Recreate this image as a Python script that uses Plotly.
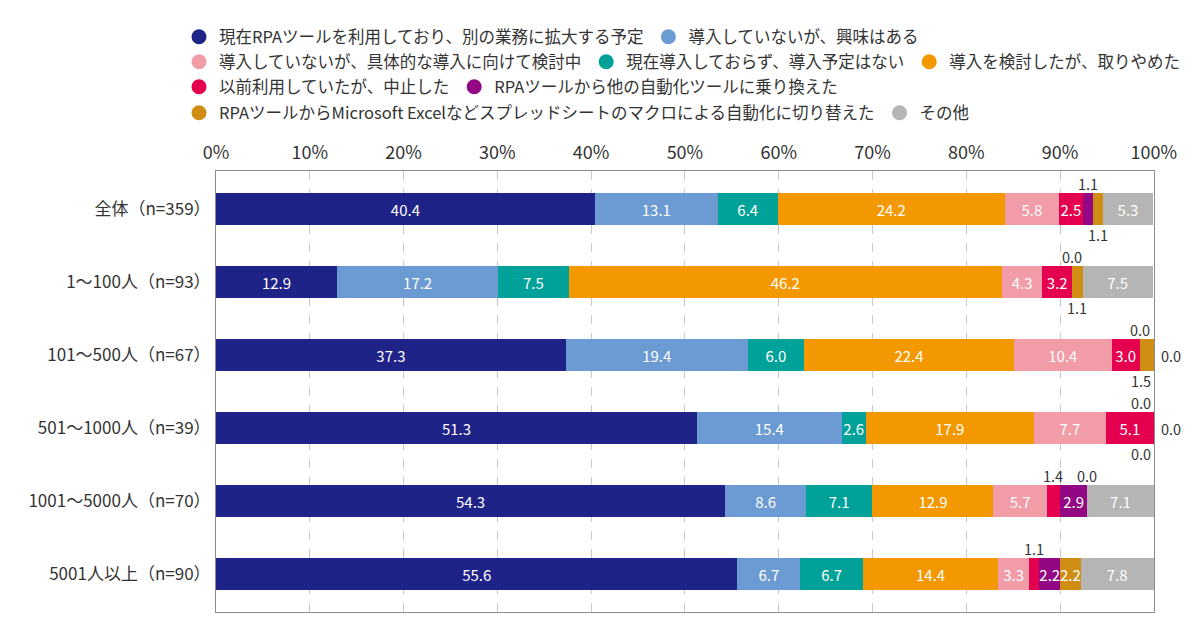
import plotly.graph_objects as go

# rows (top to bottom)
categories = ["全体（n=359）", "1～100人（n=93）", "101～500人（n=67）",
              "501～1000人（n=39）", "1001～5000人（n=70）", "5001人以上（n=90）"]

# series values in %
expand = [40.4, 12.9, 37.3, 51.3, 54.3, 55.6]
interested = [13.1, 17.2, 19.4, 15.4, 8.6, 6.7]
no_plan = [6.4, 7.5, 6.0, 2.6, 7.1, 6.7]
gave_up = [24.2, 46.2, 22.4, 17.9, 12.9, 14.4]
considering = [5.8, 4.3, 10.4, 7.7, 5.7, 3.3]
stopped = [2.5, 3.2, 3.0, 5.1, 1.4, 1.1]
other_tool = [1.1, 0.0, 0.0, 0.0, 2.9, 2.2]
excel_macro = [1.1, 1.1, 1.5, 0.0, 0.0, 2.2]
others = [5.3, 7.5, 0.0, 0.0, 7.1, 7.8]

x_ticks = list(range(0, 101, 10))

# name, values, colour (stack order left -> right)
series = [
    ("現在RPAツールを利用しており、別の業務に拡大する予定", expand, "#1f2287"),
    ("導入していないが、興味はある", interested, "#6b9bd2"),
    ("現在導入しておらず、導入予定はない", no_plan, "#00a199"),
    ("導入を検討したが、取りやめた", gave_up, "#f39800"),
    ("導入していないが、具体的な導入に向けて検討中", considering, "#f19ca7"),
    ("以前利用していたが、中止した", stopped, "#e5004f"),
    ("RPAツールから他の自動化ツールに乗り換えた", other_tool, "#920783"),
    ("RPAツールからMicrosoft Excelなどスプレッドシートのマクロによる自動化に切り替えた",
     excel_macro, "#cf8d14"),
    ("その他", others, "#b5b5b5"),
]

# legend rows, as indexes into series
legend_rows = [[0, 1], [4, 2, 3], [5, 6], [7, 8]]

# labels drawn outside the bar: (series index, row index) -> where
outside = {
    (6, 0): "up", (7, 0): "down",
    (6, 1): "up", (7, 1): "down",
    (6, 2): "up", (7, 2): "down", (8, 2): "right",
    (6, 3): "up", (8, 3): "right", (7, 3): "down",
    (5, 4): "up", (7, 4): "up",
    (5, 5): "up",
}

FONT = "Noto Sans CJK JP"
W, H = 1200, 642
M_L, M_R, M_T, M_B = 216, 46, 171, 30
plot_w = W - M_L - M_R
plot_h = H - M_T - M_B

fig = go.Figure()
base = [0.0] * len(categories)
annotations = []
for si, (name, vals, color) in enumerate(series):
    texts = []
    for ri, v in enumerate(vals):
        where = outside.get((si, ri))
        if where is None:
            texts.append("%.1f" % v)
        else:
            texts.append("")
            center = base[ri] + v / 2.0
            if where == "right":
                annotations.append(dict(x=100, y=categories[ri], text="%.1f" % v,
                                        xanchor="left", xshift=5, showarrow=False,
                                        font=dict(size=14.5, color="#333333", family=FONT)))
            else:
                annotations.append(dict(x=min(center, 98.6), y=categories[ri],
                                        text="%.1f" % v, showarrow=False,
                                        yshift=25.5 if where == "up" else -25.5,
                                        font=dict(size=14.5, color="#333333", family=FONT)))
    fig.add_trace(go.Bar(
        y=categories, x=vals, orientation="h", name=name,
        marker=dict(color=color, line=dict(width=0)),
        text=texts, textposition="inside", insidetextanchor="middle",
        constraintext="none", cliponaxis=False,
        textfont=dict(color="white", size=15, family=FONT),
        showlegend=False, hoverinfo="x+name",
    ))
    base = [b + v for b, v in zip(base, vals)]

# legend entries with round markers, one legend per row
legend_names = ["legend", "legend2", "legend3", "legend4"]
for li, row in enumerate(legend_rows):
    for rank, si in enumerate(row):
        name, vals, color = series[si]
        fig.add_trace(go.Scatter(
            x=[None], y=[None], mode="markers", name=name,
            marker=dict(symbol="circle", size=15, color=color),
            legend=legend_names[li], legendrank=rank + 1, showlegend=True,
        ))

# legend rows sit above the plot, starting a little left of it
row_y = [37, 62, 87, 113]
legend_layout = {}
for li, ln in enumerate(legend_names):
    legend_layout[ln] = dict(
        orientation="h", xref="paper", yref="paper",
        x=(179 - M_L) / float(plot_w), y=(H - M_B - row_y[li]) / float(plot_h),
        xanchor="left", yanchor="middle",
        font=dict(size=16.5, color="#333333", family=FONT),
        itemwidth=30, itemsizing="trace", tracegroupgap=0, traceorder="normal",
        bgcolor="rgba(0,0,0,0)",
    )

fig.update_layout(
    width=W, height=H,
    margin=dict(l=M_L, r=M_R, t=M_T, b=M_B, autoexpand=False),
    barmode="stack", bargap=0.565,
    paper_bgcolor="white", plot_bgcolor="white",
    font=dict(family=FONT, color="#333333"),
    annotations=annotations,
    xaxis=dict(
        range=[0, 100.02], side="top", tickvals=x_ticks,
        ticktext=["%d%%" % t for t in x_ticks],
        tickfont=dict(size=18, color="#333333"),
        showgrid=True, gridcolor="#c8c8c8", griddash="dash", gridwidth=1,
        showline=True, linecolor="#8c8c8c", linewidth=1, mirror=True,
        zeroline=False, ticks="", ticklabelstandoff=4, automargin=False,
    ),
    yaxis=dict(
        autorange="reversed", tickfont=dict(size=17, color="#333333"),
        showline=True, linecolor="#8c8c8c", linewidth=1, mirror=True,
        showgrid=False, ticks="", ticklabelstandoff=1, automargin=False,
    ),
    **legend_layout,
)

fig.write_html("out.html", config={"displayModeBar": False},
               post_script="document.body.style.margin='0px';")
